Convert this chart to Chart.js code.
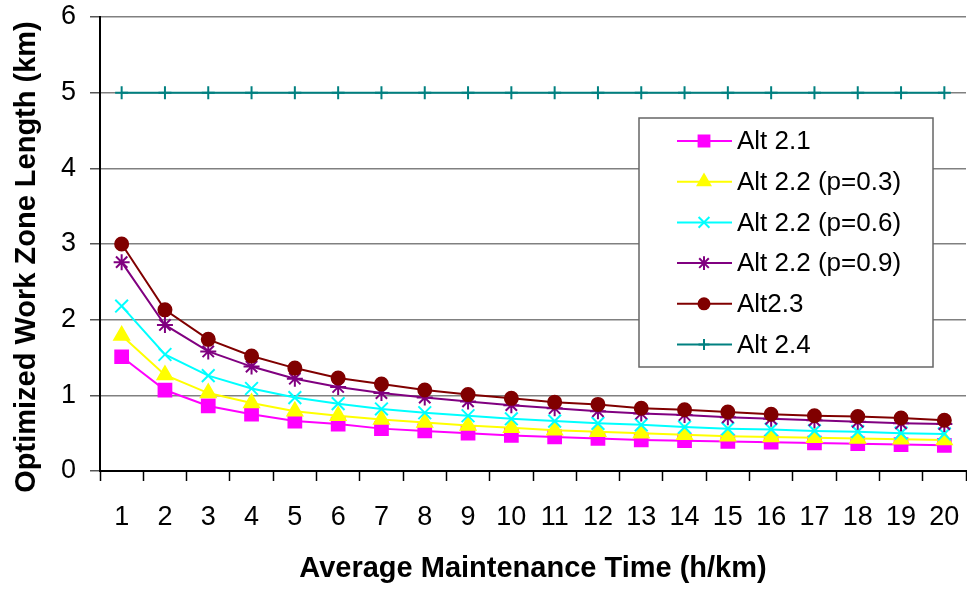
<!DOCTYPE html>
<html>
<head>
<meta charset="utf-8">
<title>Optimized Work Zone Length</title>
<script src="https://cdn.jsdelivr.net/npm/chart.js"></script>
<style>
  html, body { margin: 0; padding: 0; background: #fff; }
  #wrap { width: 967px; height: 590px; }
</style>
</head>
<body>
<div id="wrap"><canvas id="zoneChart" width="967" height="590"></canvas></div>
<script>
/* ----------------------------------------------------------
   DATA
---------------------------------------------------------- */
const maintTime = ["1","2","3","4","5","6","7","8","9","10","11","12","13","14","15","16","17","18","19","20"];

const alt21    = [1.51, 1.07, 0.86, 0.75, 0.66, 0.62, 0.56, 0.53, 0.50, 0.47, 0.45, 0.43, 0.41, 0.40, 0.39, 0.38, 0.37, 0.36, 0.35, 0.34];
const alt22p03 = [1.79, 1.27, 1.03, 0.90, 0.79, 0.73, 0.68, 0.64, 0.60, 0.57, 0.54, 0.52, 0.50, 0.48, 0.46, 0.45, 0.44, 0.43, 0.42, 0.41];
const alt22p06 = [2.18, 1.54, 1.26, 1.09, 0.97, 0.89, 0.82, 0.77, 0.73, 0.69, 0.66, 0.63, 0.61, 0.58, 0.56, 0.55, 0.53, 0.52, 0.50, 0.49];
const alt22p09 = [2.76, 1.93, 1.58, 1.38, 1.22, 1.11, 1.03, 0.97, 0.92, 0.87, 0.83, 0.79, 0.76, 0.74, 0.71, 0.69, 0.67, 0.65, 0.63, 0.62];
const alt23    = [3.00, 2.13, 1.74, 1.52, 1.36, 1.23, 1.15, 1.07, 1.01, 0.96, 0.91, 0.88, 0.83, 0.81, 0.78, 0.75, 0.73, 0.72, 0.70, 0.67];
const alt24    = [5, 5, 5, 5, 5, 5, 5, 5, 5, 5, 5, 5, 5, 5, 5, 5, 5, 5, 5, 5];

const yTicks = [0, 1, 2, 3, 4, 5, 6];

const FONT = "'Liberation Sans', Arial, sans-serif";

/* ----------------------------------------------------------
   DATASET HELPER
---------------------------------------------------------- */
function series(label, data, color, style, radius, order) {
  return {
    label: label,
    data: data,
    borderColor: color,
    backgroundColor: color,
    borderWidth: 2,
    pointStyle: style,
    pointRadius: radius,
    pointBorderWidth: 2,
    pointBackgroundColor: color,
    pointBorderColor: color,
    tension: 0,
    order: order
  };
}

/* ----------------------------------------------------------
   LEGEND BOX INSIDE THE PLOT (custom)
---------------------------------------------------------- */
const insideLegend = {
  id: "insideLegend",
  afterDatasetsDraw(chart) {
    const ctx = chart.ctx;
    const box = { x: 639, y: 118, w: 294, h: 249 };
    ctx.save();
    ctx.fillStyle = "#fff";
    ctx.fillRect(box.x, box.y, box.w, box.h);
    ctx.strokeStyle = "#666";
    ctx.lineWidth = 1.5;
    ctx.strokeRect(box.x, box.y, box.w, box.h);

    ctx.font = "26px " + FONT;
    ctx.textBaseline = "middle";
    ctx.textAlign = "left";
    chart.data.datasets.forEach((ds, i) => {
      const cy = 141 + i * 40.7;
      ctx.strokeStyle = ds.borderColor;
      ctx.fillStyle = ds.borderColor;
      ctx.lineWidth = 2;
      ctx.beginPath();
      ctx.moveTo(677, cy);
      ctx.lineTo(732, cy);
      ctx.stroke();
      Chart.helpers.drawPoint(ctx, {
        pointStyle: ds.pointStyle,
        radius: ds.pointRadius * 0.85,
        borderWidth: 2,
        rotation: 0
      }, 704, cy);
      ctx.fillStyle = "#000";
      ctx.fillText(ds.label, 737, cy + 1);
    });
    ctx.restore();
  }
};

/* ----------------------------------------------------------
   Y AXIS TITLE (centred on full height, like the original)
---------------------------------------------------------- */
const yTitle = {
  id: "yTitle",
  afterDraw(chart) {
    const ctx = chart.ctx;
    ctx.save();
    ctx.translate(27, 257);
    ctx.rotate(-Math.PI / 2);
    ctx.font = "bold 29px " + FONT;
    ctx.fillStyle = "#000";
    ctx.textAlign = "center";
    ctx.textBaseline = "middle";
    ctx.fillText("Optimized Work Zone Length (km)", 0, 0);
    ctx.restore();
  }
};

/* ----------------------------------------------------------
   RENDER
---------------------------------------------------------- */
new Chart(document.getElementById("zoneChart"), {
  type: "line",
  data: {
    labels: maintTime,
    datasets: [
      series("Alt 2.1", alt21, "#FF00FF", "rect", 9, 6),
      series("Alt 2.2 (p=0.3)", alt22p03, "#FFFF00", "triangle", 8.5, 5),
      series("Alt 2.2 (p=0.6)", alt22p06, "#00FFFF", "crossRot", 9, 4),
      series("Alt 2.2 (p=0.9)", alt22p09, "#800080", "star", 8, 3),
      series("Alt2.3", alt23, "#800000", "circle", 6.5, 2),
      series("Alt 2.4", alt24, "#008080", "cross", 6.5, 1)
    ]
  },
  options: {
    responsive: false,
    animation: false,
    layout: { padding: 0, autoPadding: false },
    plugins: {
      legend: { display: false },
      tooltip: { enabled: false }
    },
    scales: {
      x: {
        type: "category",
        offset: true,
        grid: {
          offset: true,
          drawOnChartArea: false,
          drawTicks: true,
          tickLength: 10,
          tickColor: "#000",
          tickWidth: 1.5
        },
        border: { color: "#000", width: 2 },
        ticks: {
          color: "#000",
          font: { family: FONT, size: 27 },
          padding: 20,
          autoSkip: false,
          maxRotation: 0,
          minRotation: 0
        },
        title: {
          display: true,
          text: "Average Maintenance Time (h/km)",
          color: "#000",
          font: { family: FONT, size: 29, weight: "bold" },
          padding: { top: 0, bottom: 4 }
        },
        afterFit(scale) {
          scale.height = 119;
          scale.paddingLeft = 0;
          scale.paddingRight = 1;
        }
      },
      y: {
        min: 0,
        max: 6,
        afterBuildTicks(scale) { scale.ticks = yTicks.map(v => ({ value: v })); },
        grid: {
          color: "#808080",
          lineWidth: 1.5,
          drawTicks: true,
          tickLength: 10,
          tickColor: "#555"
        },
        border: { color: "#000", width: 2 },
        ticks: {
          color: "#000",
          font: { family: FONT, size: 27 },
          padding: 14
        },
        afterFit(scale) {
          scale.width = 100;
          scale.paddingTop = 17;
          scale.paddingBottom = 0;
        }
      }
    }
  },
  plugins: [insideLegend, yTitle]
});
</script>
</body>
</html>
